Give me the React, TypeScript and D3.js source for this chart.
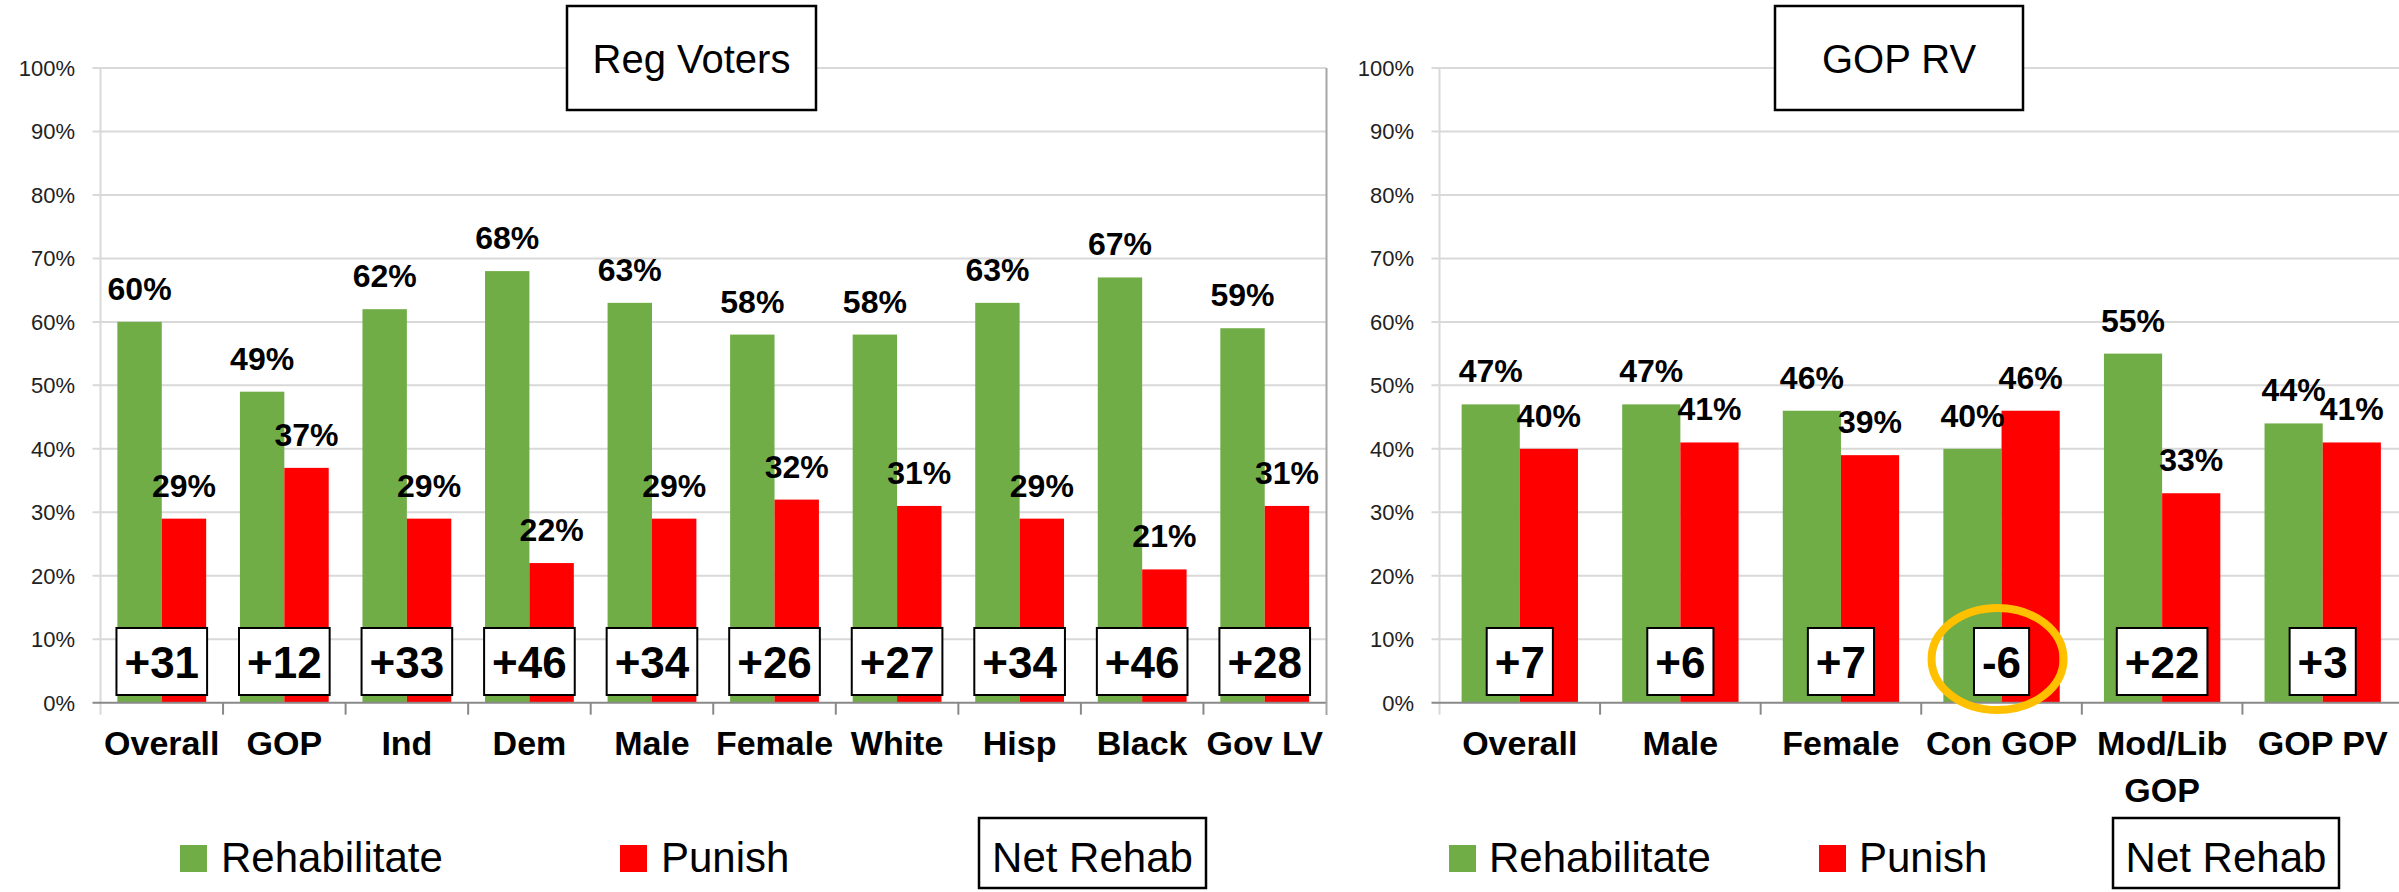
import * as d3 from "d3";
import { useEffect, useRef } from "react";

// Reg Voters panel
const regCats = ["Overall", "GOP", "Ind", "Dem", "Male", "Female", "White", "Hisp", "Black", "Gov LV"];
const regRehab = [60, 49, 62, 68, 63, 58, 58, 63, 67, 59];
const regPunish = [29, 37, 29, 22, 29, 32, 31, 29, 21, 31];
const regNet = ["+31", "+12", "+33", "+46", "+34", "+26", "+27", "+34", "+46", "+28"];

// GOP RV panel
const gopCats = ["Overall", "Male", "Female", "Con GOP", "Mod/Lib|GOP", "GOP PV"];
const gopRehab = [47, 47, 46, 40, 55, 44];
const gopPunish = [40, 41, 39, 46, 33, 41];
const gopNet = ["+7", "+6", "+7", "-6", "+22", "+3"];

const yTicks = [0, 10, 20, 30, 40, 50, 60, 70, 80, 90, 100];

const GREEN = "#70AD47";
const RED = "#FF0000";
const FONT = "'Liberation Sans', Arial, sans-serif";

export default function App() {
  const svgRef = useRef(null);

  useEffect(() => {
    const svg = d3.select(svgRef.current);
    svg.selectAll("*").remove();

    const y = d3.scaleLinear().domain([0, 100]).range([702.7, 68]);

    const drawPanel = (opts) => {
      const { cats, rehab, punish, net, x0r, tickX, title, titleBox, legend, highlight } = opts;
      const g = svg.append("g");
      const x0 = d3.scaleBand().domain(cats).range(x0r);
      const x1 = d3
        .scaleBand()
        .domain(["rehab", "punish"])
        .range([0, x0.bandwidth()])
        .paddingInner(0)
        .paddingOuter(0.38);

      // gridlines
      g.selectAll(".grid")
        .data(yTicks.filter((t) => t > 0))
        .enter()
        .append("line")
        .attr("x1", x0r[0] - 8)
        .attr("x2", x0r[1])
        .attr("y1", (d) => y(d))
        .attr("y2", (d) => y(d))
        .attr("stroke", "#D9D9D9")
        .attr("stroke-width", 2);

      // y axis line
      g.append("line")
        .attr("x1", x0r[0])
        .attr("x2", x0r[0])
        .attr("y1", y(100))
        .attr("y2", y(0) + 12)
        .attr("stroke", "#D9D9D9")
        .attr("stroke-width", 2);

      g.selectAll(".ytl")
        .data(yTicks)
        .enter()
        .append("text")
        .attr("x", tickX)
        .attr("y", (d) => y(d) + 8)
        .attr("text-anchor", "end")
        .attr("font-family", FONT)
        .attr("font-size", 22)
        .attr("fill", "#222")
        .text((d) => d + "%");

      const rows = cats.map((c, i) => ({ c, r: rehab[i], p: punish[i], n: net[i] }));

      const cat = g
        .selectAll(".cat")
        .data(rows)
        .enter()
        .append("g")
        .attr("transform", (d) => `translate(${x0(d.c)},0)`);

      cat.append("rect")
        .attr("x", x1("rehab"))
        .attr("width", x1.bandwidth())
        .attr("y", (d) => y(d.r))
        .attr("height", (d) => y(0) - y(d.r))
        .attr("fill", GREEN);
      cat.append("rect")
        .attr("x", x1("punish"))
        .attr("width", x1.bandwidth())
        .attr("y", (d) => y(d.p))
        .attr("height", (d) => y(0) - y(d.p))
        .attr("fill", RED);

      // baseline axis
      g.append("line")
        .attr("x1", x0r[0] - 8)
        .attr("x2", x0r[1])
        .attr("y1", y(0))
        .attr("y2", y(0))
        .attr("stroke", "#898989")
        .attr("stroke-width", 2);
      g.selectAll(".tick")
        .data(cats.slice(1))
        .enter()
        .append("line")
        .attr("x1", (d) => x0(d))
        .attr("x2", (d) => x0(d))
        .attr("y1", y(0))
        .attr("y2", y(0) + 12)
        .attr("stroke", "#898989")
        .attr("stroke-width", 2);

      const lblFont = (s) =>
        s.attr("font-family", FONT).attr("font-weight", "bold").attr("font-size", 32).attr("text-anchor", "middle");
      cat.append("text")
        .call(lblFont)
        .attr("x", x1("rehab") + x1.bandwidth() / 2)
        .attr("y", (d) => y(d.r) - 22)
        .text((d) => d.r + "%");
      cat.append("text")
        .call(lblFont)
        .attr("x", x1("punish") + x1.bandwidth() / 2)
        .attr("y", (d) => y(d.p) - 22)
        .text((d) => d.p + "%");

      // net boxes
      cat.each(function (d) {
        const cg = d3.select(this);
        const cx = x0.bandwidth() / 2;
        const box = cg.append("rect");
        const t = cg
          .append("text")
          .attr("x", cx)
          .attr("y", 678)
          .attr("text-anchor", "middle")
          .attr("font-family", FONT)
          .attr("font-weight", "bold")
          .attr("font-size", 44)
          .text(d.n);
        const w = t.node().getComputedTextLength() + 16;
        box.attr("x", cx - w / 2)
          .attr("y", 628)
          .attr("width", w)
          .attr("height", 67)
          .attr("fill", "white")
          .attr("stroke", "black")
          .attr("stroke-width", 2);
      });

      // category labels
      cat.append("text")
        .attr("text-anchor", "middle")
        .attr("font-family", FONT)
        .attr("font-weight", "bold")
        .attr("font-size", 34)
        .each(function (d) {
          const parts = d.c.split("|");
          parts.forEach((p, i) => {
            d3.select(this)
              .append("tspan")
              .attr("x", x0.bandwidth() / 2)
              .attr("y", 755 + i * 47)
              .text(p);
          });
        });

      // title
      g.append("rect")
        .attr("x", titleBox[0])
        .attr("y", 6)
        .attr("width", titleBox[1] - titleBox[0])
        .attr("height", 104)
        .attr("fill", "white")
        .attr("stroke", "black")
        .attr("stroke-width", 2.5);
      g.append("text")
        .attr("x", (titleBox[0] + titleBox[1]) / 2)
        .attr("y", 73)
        .attr("text-anchor", "middle")
        .attr("font-family", FONT)
        .attr("font-size", 40)
        .text(title);

      // legend
      const [gx, gtx, rx, rtx, nb0, nb1] = legend;
      const lg = g.append("g").attr("font-family", FONT).attr("font-size", 42);
      lg.append("rect").attr("x", gx).attr("y", 845).attr("width", 27).attr("height", 27).attr("fill", GREEN);
      lg.append("text").attr("x", gtx).attr("y", 872).text("Rehabilitate");
      lg.append("rect").attr("x", rx).attr("y", 845).attr("width", 27).attr("height", 27).attr("fill", RED);
      lg.append("text").attr("x", rtx).attr("y", 872).text("Punish");
      lg.append("rect")
        .attr("x", nb0)
        .attr("y", 818)
        .attr("width", nb1 - nb0)
        .attr("height", 70)
        .attr("fill", "white")
        .attr("stroke", "black")
        .attr("stroke-width", 2.5);
      lg.append("text").attr("x", (nb0 + nb1) / 2).attr("y", 872).attr("text-anchor", "middle").text("Net Rehab");

      if (highlight) {
        const cx = x0(highlight) + x0.bandwidth() / 2;
        g.append("ellipse")
          .attr("cx", cx - 4)
          .attr("cy", 659)
          .attr("rx", 66)
          .attr("ry", 51)
          .attr("fill", "none")
          .attr("stroke", "#FFC000")
          .attr("stroke-width", 8);
      }
    };

    drawPanel({
      cats: regCats,
      rehab: regRehab,
      punish: regPunish,
      net: regNet,
      x0r: [100.5, 1326],
      tickX: 75,
      title: "Reg Voters",
      titleBox: [567, 816],
      legend: [180, 221, 620, 661, 979, 1206],
    });

    // separator / right edge of left panel
    svg.append("line")
      .attr("x1", 1326.5)
      .attr("x2", 1326.5)
      .attr("y1", 68)
      .attr("y2", 715)
      .attr("stroke", "#A6A6A6")
      .attr("stroke-width", 2);

    drawPanel({
      cats: gopCats,
      rehab: gopRehab,
      punish: gopPunish,
      net: gopNet,
      x0r: [1439.5, 2403],
      tickX: 1414,
      title: "GOP RV",
      titleBox: [1775, 2023],
      legend: [1449, 1489, 1819, 1859, 2113, 2339],
      highlight: "Con GOP",
    });
  }, []);

  return (
    <div style={{ position: "absolute", left: 0, top: 0 }}>
      <svg ref={svgRef} width={2399} height={892} style={{ display: "block", background: "white" }}></svg>
    </div>
  );
}
